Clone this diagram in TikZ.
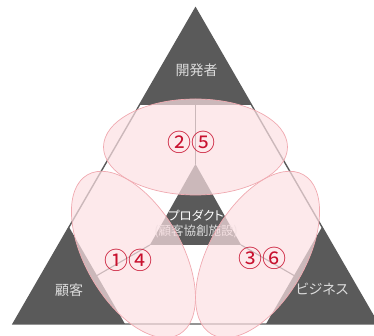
\documentclass[tikz,border=0pt]{standalone}
\usepackage{fontspec}
\usetikzlibrary{shapes.geometric}
\newfontfamily\jp[RawFeature=+palt]{Noto Sans CJK JP}
\newfontfamily\jpn{Noto Sans CJK JP}
\definecolor{dk}{HTML}{5A5A5A}
\definecolor{pk}{HTML}{FCE0E3}
\definecolor{pkline}{HTML}{F0A9B0}
\definecolor{numred}{HTML}{C8102E}
\definecolor{lbl}{HTML}{DCDCDC}
\begin{document}
\begin{tikzpicture}[x=1pt,y=1pt,
  darktri/.style={fill=dk, draw=none},
  edgeline/.style={draw=dk, line width=1.4pt, line join=miter},
  link/.style={draw=dk, line width=1.1pt},
  bubble/.style={ellipse, fill=pk, fill opacity=0.7, draw=pkline, line width=0.7pt,
     minimum width=184pt, minimum height=96pt, inner sep=0pt},
  lab/.style={text=lbl, font=\jp\fontsize{14}{14}\selectfont, inner sep=0pt},
  clab/.style={font=\jp\fontsize{12.5}{12.5}\selectfont, inner sep=0pt},
  num/.style={text=numred, font=\jpn\fontsize{24}{24}\selectfont, inner sep=0pt}]
\useasboundingbox (0,0) rectangle (374,336);
\clip (0,0) rectangle (374,336);
% big triangle
\coordinate (A) at (195.5,328);
\coordinate (B) at (13,12);
\coordinate (C) at (378,12);
\coordinate (G) at (195.5,117.33);
% corner triangles
\coordinate (T1) at (139.5,231);
\coordinate (T2) at (251.5,231);
\coordinate (L1) at (69,109);
\coordinate (L2) at (125,12);
\coordinate (R1) at (322,109);
\coordinate (R2) at (266,12);
% centre triangle
\coordinate (P) at (195.5,172);
\coordinate (Q) at (149.9,91);
\coordinate (R) at (241.1,91);
% link starts
\coordinate (Tm) at (195.5,231);
\coordinate (Lm) at (97,60.5);
\coordinate (Rm) at (294,60.5);

\fill[darktri] (A) -- (T1) -- (T2) -- cycle;
\fill[darktri] (B) -- (L1) -- (L2) -- cycle;
\fill[darktri] (C) -- (R1) -- (R2) -- cycle;
\fill[darktri] (P) -- (Q) -- (R) -- cycle;
\draw[edgeline] (A) -- (B) -- (C) -- cycle;
\draw[link] (Tm) -- (P);
\draw[link] (Lm) -- (Q);
\draw[link] (Rm) -- (R);

\node[lab] (dev) at (196.5,266) {開発者};
\node[lab] (cust) at (69,46) {顧客};
\node[lab] (biz) at (322,47) {ビジネス};
\node[clab, text=white] (prod) at (196,120) {プロダクト};
\node[clab, text=lbl] (fac) at (196,105) {(顧客協創施設)};

\node[bubble] (eTop) at (195.5,189) {};
\node[bubble, rotate=120] (eLeft) at (133.43,81.5) {};
\node[bubble, rotate=-120] (eRight) at (257.57,81.5) {};

\node[num] (n25) at (191,194) {②⑤};
\node[num] (n14) at (128,76) {①④};
\node[num] (n36) at (262,78) {③⑥};
\end{tikzpicture}
\end{document}
